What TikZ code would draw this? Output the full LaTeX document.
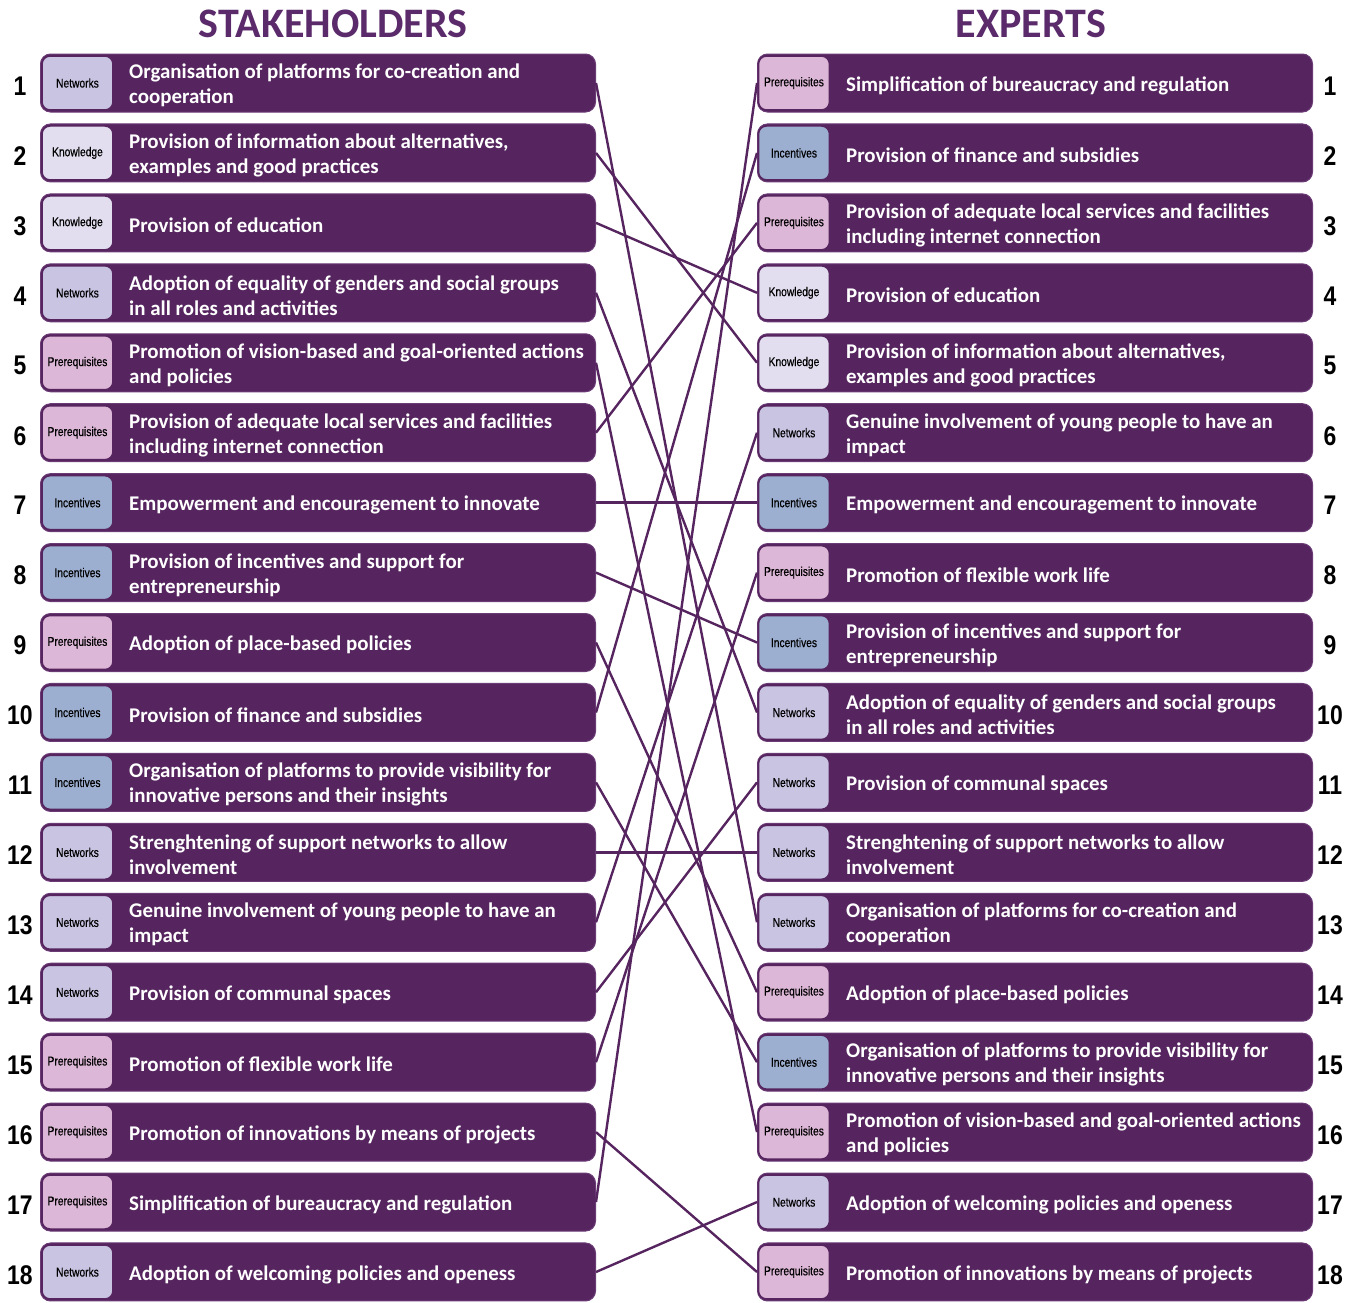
\documentclass[tikz,border=0pt]{standalone}
\usepackage{fontspec}
\setmainfont{Carlito}
\newfontfamily\tagfont[FakeStretch=0.8,FakeBold=0.4]{Liberation Sans}
\newfontfamily\numfont[FakeStretch=0.85]{Liberation Sans}
\definecolor{boxpurple}{HTML}{56255F}
\definecolor{edgepurple}{HTML}{6B3B76}
\definecolor{titlepurple}{HTML}{5A2A6A}
\definecolor{cNet}{HTML}{C8C4E1}
\definecolor{cKno}{HTML}{E2DEEF}
\definecolor{cPre}{HTML}{DDB7D7}
\definecolor{cInc}{HTML}{9DAFD0}
\tikzset{
  mainbox/.style={draw=edgepurple, line width=1pt, fill=boxpurple, rounded corners=10pt,
    minimum width=555pt, minimum height=58pt, inner sep=0pt},
  tagbox/.style={draw=boxpurple, line width=1.6pt, fill=#1, rounded corners=8pt,
    minimum width=71pt, minimum height=54pt, inner sep=0pt,
    font=\tagfont\fontsize{12.8}{14}\selectfont, text=black},
  itemtext/.style={anchor=west, align=left, text=white, inner sep=0pt,
    font=\bfseries\fontsize{20.9}{25}\selectfont},
  numlabel/.style={font=\numfont\bfseries\fontsize{27}{29}\selectfont, text=black, inner sep=0pt},
  titletext/.style={font=\bfseries\fontsize{42}{44}\selectfont, text=titlepurple, inner sep=0pt},
  link/.style={draw=boxpurple, line width=2.4pt}
}
\newcommand\lrow[4]{%
  \pgfmathsetmacro\yy{83+(#1-1)*69.94}
  \node[mainbox, anchor=west] (s#1) at (40,\yy) {};
  \node[tagbox=#2] (st#1) at (77.5,\yy) {#3};
  \node[itemtext] (sx#1) at (129,\yy+2.5) {#4};
  \node[numlabel] (sn#1) at (20,\yy+3) {#1};
}
\newcommand\rrow[4]{%
  \pgfmathsetmacro\yy{83+(#1-1)*69.94}
  \node[mainbox, anchor=west] (e#1) at (757,\yy) {};
  \node[tagbox=#2] (et#1) at (794,\yy) {#3};
  \node[itemtext] (ex#1) at (846,\yy+2.5) {#4};
  \node[numlabel] (en#1) at (1330,\yy+3) {#1};
}
\begin{document}
\begin{tikzpicture}[x=1pt,y=-1pt]
\useasboundingbox (0,0) rectangle (1358,1302);
\node[titletext] (t1) at (333,24) {STAKEHOLDERS};
\node[titletext] (t2) at (1031,24) {EXPERTS};

\lrow{1}{cNet}{Networks}{Organisation of platforms for co-creation and\\cooperation}
\lrow{2}{cKno}{Knowledge}{Provision of information about alternatives,\\examples and good practices}
\lrow{3}{cKno}{Knowledge}{Provision of education}
\lrow{4}{cNet}{Networks}{Adoption of equality of genders and social groups\\in all roles and activities}
\lrow{5}{cPre}{Prerequisites}{Promotion of vision-based and goal-oriented actions\\and policies}
\lrow{6}{cPre}{Prerequisites}{Provision of adequate local services and facilities\\including internet connection}
\lrow{7}{cInc}{Incentives}{Empowerment and encouragement to innovate}
\lrow{8}{cInc}{Incentives}{Provision of incentives and support for\\entrepreneurship}
\lrow{9}{cPre}{Prerequisites}{Adoption of place-based policies}
\lrow{10}{cInc}{Incentives}{Provision of finance and subsidies}
\lrow{11}{cInc}{Incentives}{Organisation of platforms to provide visibility for\\innovative persons and their insights}
\lrow{12}{cNet}{Networks}{Strenghtening of support networks to allow\\involvement}
\lrow{13}{cNet}{Networks}{Genuine involvement of young people to have an\\impact}
\lrow{14}{cNet}{Networks}{Provision of communal spaces}
\lrow{15}{cPre}{Prerequisites}{Promotion of flexible work life}
\lrow{16}{cPre}{Prerequisites}{Promotion of innovations by means of projects}
\lrow{17}{cPre}{Prerequisites}{Simplification of bureaucracy and regulation}
\lrow{18}{cNet}{Networks}{Adoption of welcoming policies and openess}

\rrow{1}{cPre}{Prerequisites}{Simplification of bureaucracy and regulation}
\rrow{2}{cInc}{Incentives}{Provision of finance and subsidies}
\rrow{3}{cPre}{Prerequisites}{Provision of adequate local services and facilities\\including internet connection}
\rrow{4}{cKno}{Knowledge}{Provision of education}
\rrow{5}{cKno}{Knowledge}{Provision of information about alternatives,\\examples and good practices}
\rrow{6}{cNet}{Networks}{Genuine involvement of young people to have an\\impact}
\rrow{7}{cInc}{Incentives}{Empowerment and encouragement to innovate}
\rrow{8}{cPre}{Prerequisites}{Promotion of flexible work life}
\rrow{9}{cInc}{Incentives}{Provision of incentives and support for\\entrepreneurship}
\rrow{10}{cNet}{Networks}{Adoption of equality of genders and social groups\\in all roles and activities}
\rrow{11}{cNet}{Networks}{Provision of communal spaces}
\rrow{12}{cNet}{Networks}{Strenghtening of support networks to allow\\involvement}
\rrow{13}{cNet}{Networks}{Organisation of platforms for co-creation and\\cooperation}
\rrow{14}{cPre}{Prerequisites}{Adoption of place-based policies}
\rrow{15}{cInc}{Incentives}{Organisation of platforms to provide visibility for\\innovative persons and their insights}
\rrow{16}{cPre}{Prerequisites}{Promotion of vision-based and goal-oriented actions\\and policies}
\rrow{17}{cNet}{Networks}{Adoption of welcoming policies and openess}
\rrow{18}{cPre}{Prerequisites}{Promotion of innovations by means of projects}

\foreach \a/\b in {1/13,2/5,3/4,4/10,5/16,6/3,7/7,8/9,9/14,10/2,11/15,12/12,13/6,14/11,15/8,16/18,17/1,18/17}
  \draw[link] (s\a.east) -- (e\b.west);
\end{tikzpicture}
\end{document}
